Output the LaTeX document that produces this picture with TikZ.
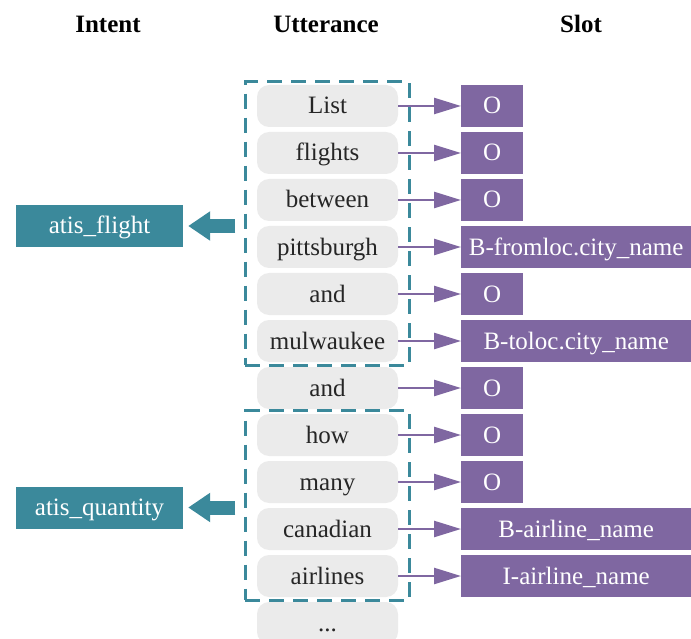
\documentclass[tikz,border=0pt]{standalone}
\usepackage{fontspec}
\setmainfont{Liberation Serif}
\usetikzlibrary{arrows.meta,fit}
\definecolor{wordgray}{HTML}{EBEBEB}
\definecolor{slotpurple}{HTML}{7F67A1}
\definecolor{intentteal}{HTML}{3B899B}

\tikzset{
	box/.style={minimum height=42pt, text height=20pt, text depth=4pt},
	word/.style={box, fill=wordgray, rounded corners=12pt, minimum width=141pt, text=black!85},
	slot/.style={box, fill=slotpurple, anchor=west, minimum width=62pt, text=white},
	longslot/.style={slot, minimum width=230pt},
	intent/.style={box, fill=intentteal, minimum width=167pt, text=white},
	group/.style={draw=intentteal, line width=3pt, dash pattern=on 15pt off 9pt, inner xsep=11.5pt, inner ysep=3pt},
	tag/.style={draw=slotpurple, line width=2.5pt, -{Triangle[length=27pt,width=16pt]}},
	pick/.style={draw=intentteal, line width=14pt, -{Triangle[length=22pt,width=28pt]}, shorten <=8.5pt, shorten >=5pt},
	heading/.style={font=\fontsize{25}{30}\selectfont\bfseries}
}

\begin{document}
\begin{tikzpicture}[x=1pt, y=-1pt, font=\fontsize{25}{30}\selectfont]
		%%%%% START %%%%%
		\useasboundingbox (0, 0) rectangle (691, 639);
		\clip (0, 0) rectangle (691, 639);
		
		\node[heading] (hintent) at (108, 24) {Intent};
		\node[heading] (hutter) at (326, 24) {Utterance};
		\node[heading] (hslot) at (581, 24) {Slot};
		
		% words
		\node[word] (w1) at (327.5, 106) {List};
		\node[word] (w2) at (327.5, 153) {flights};
		\node[word] (w3) at (327.5, 200) {between};
		\node[word] (w4) at (327.5, 247) {pittsburgh};
		\node[word] (w5) at (327.5, 294) {and};
		\node[word] (w6) at (327.5, 341) {mulwaukee};
		\node[word] (w7) at (327.5, 388) {and};
		\node[word] (w8) at (327.5, 435) {how};
		\node[word] (w9) at (327.5, 482) {many};
		\node[word] (w10) at (327.5, 529) {canadian};
		\node[word] (w11) at (327.5, 576) {airlines};
		\node[word] (w12) at (327.5, 623) {...};
		
		% slot labels
		\node[slot] (s1) at (461, 106) {O};
		\node[slot] (s2) at (461, 153) {O};
		\node[slot] (s3) at (461, 200) {O};
		\node[longslot] (s4) at (461, 247) {B-fromloc.city\_name};
		\node[slot] (s5) at (461, 294) {O};
		\node[longslot] (s6) at (461, 341) {B-toloc.city\_name};
		\node[slot] (s7) at (461, 388) {O};
		\node[slot] (s8) at (461, 435) {O};
		\node[slot] (s9) at (461, 482) {O};
		\node[longslot] (s10) at (461, 529) {B-airline\_name};
		\node[longslot] (s11) at (461, 576) {I-airline\_name};
		
		\draw[tag] (w1) -- (s1);
		\draw[tag] (w2) -- (s2);
		\draw[tag] (w3) -- (s3);
		\draw[tag] (w4) -- (s4);
		\draw[tag] (w5) -- (s5);
		\draw[tag] (w6) -- (s6);
		\draw[tag] (w7) -- (s7);
		\draw[tag] (w8) -- (s8);
		\draw[tag] (w9) -- (s9);
		\draw[tag] (w10) -- (s10);
		\draw[tag] (w11) -- (s11);
		
		% intents
		\node[group, fit=(w1)(w6)] (grp1) {};
		\node[group, fit=(w8)(w11)] (grp2) {};
		
		\node[intent] (flight) at (99.5, 226) {atis\_flight};
		\node[intent] (quantity) at (99.5, 507.5) {atis\_quantity};
		
		\draw[pick] (grp1.west |- flight.east) -- (flight.east);
		\draw[pick] (grp2.west |- quantity.east) -- (quantity.east);
		
		%%%%% END %%%%%
	\end{tikzpicture}
\end{document}
